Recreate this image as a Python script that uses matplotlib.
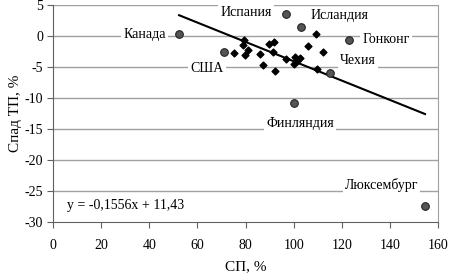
import matplotlib
matplotlib.use('Agg')
import matplotlib.pyplot as plt

plt.rcParams['font.family'] = ['Liberation Serif', 'DejaVu Serif']

# named countries (circles)
names = ['Канада', 'США', 'Испания', 'Исландия', 'Гонконг', 'Чехия', 'Финляндия', 'Люксембург']
named_x = [52.4, 71.0, 96.7, 103.0, 123.2, 115.0, 100.2, 154.6]
named_y = [0.3, -2.7, 3.5, 1.4, -0.7, -6.1, -10.8, -27.4]
# label anchor positions (data coords)
label_x = [38.0, 64.0, 80.2, 119.0, 138.3, 126.8, 102.8, 136.5]
label_y = [0.1, -5.3, 3.7, 3.2, -0.7, -4.0, -14.2, -24.0]

# other countries (diamonds)
other_x = [75.4, 79.5, 79.1, 80.9, 79.9, 86.0, 87.4, 89.9, 91.9, 91.6, 92.3,
           96.8, 100.6, 101.3, 102.7, 105.8, 109.3, 112.3, 109.6, 100.2]
other_y = [-2.8, -0.7, -1.5, -2.3, -3.1, -2.9, -4.8, -1.3, -1.0, -2.7, -5.7,
           -3.75, -3.4, -4.1, -3.6, -1.6, 0.3, -2.7, -5.3, -4.6]

slope, intercept = -0.1556, 11.43
xticks = [0, 20, 40, 60, 80, 100, 120, 140, 160]
yticks = [5, 0, -5, -10, -15, -20, -25, -30]

fig = plt.figure(figsize=(4.49, 2.80), dpi=100)
ax = fig.add_axes([53/449, 58/280, 385/449, 217.5/280])
ax.set_xlim(0, 160)
ax.set_ylim(-30, 5)

for yv in yticks[:-1]:
    ax.axhline(yv, color='#a0a0a0', lw=1.0, zorder=0)

ax.scatter(other_x, other_y, marker='D', s=12, color='black', zorder=3)
ax.scatter(named_x, named_y, marker='o', s=30, color='#555555', edgecolors='#222222', linewidths=0.8, zorder=3)

xmin, xmax = min(named_x + other_x), max(named_x + other_x)
ax.plot([xmin, xmax], [slope * xmin + intercept, slope * xmax + intercept], color='black', lw=1.5, zorder=2)

for n, lx, ly in zip(names, label_x, label_y):
    ax.text(lx, ly, n, ha='center', va='center', fontsize=10, zorder=4,
            bbox=dict(facecolor='white', edgecolor='none', pad=1.5))

ax.text(5.7, -27.4, 'y = -0,1556x + 11,43', ha='left', va='center', fontsize=10, zorder=4)

ax.set_xticks(xticks)
ax.set_xticklabels([str(v) for v in xticks], fontsize=10)
ax.set_yticks(yticks)
ax.set_yticklabels([str(v).replace('-', '-') for v in yticks], fontsize=10)
ax.tick_params(direction='out', length=4, color='#606060', pad=8)
ax.tick_params(axis='y', pad=3)

ax.spines['top'].set_visible(False)
ax.spines['right'].set_color('#a0a0a0')
ax.spines['left'].set_color('#606060')
ax.spines['bottom'].set_color('#606060')

ax.set_xlabel('СП, %', fontsize=11, labelpad=6)
ax.set_ylabel('Спад ТП, %', fontsize=11, labelpad=2)

fig.savefig('out.png', dpi=100)
